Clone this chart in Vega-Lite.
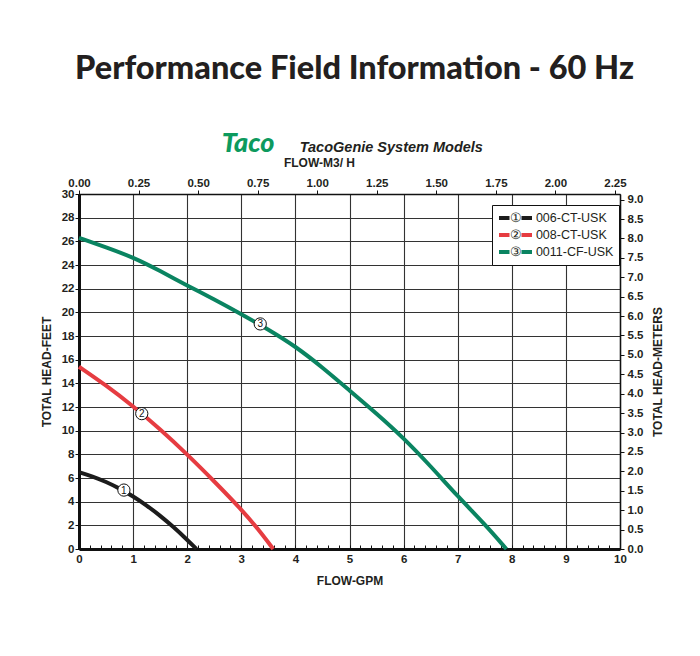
{
  "$schema": "https://vega.github.io/schema/vega-lite/v6.json",
  "autosize": {"type": "none"},
  "width": 541,
  "height": 355,
  "padding": {"left": 79, "top": 194, "right": 80, "bottom": 107},
  "background": "white",
  "title": {
    "text": "Performance Field Information - 60 Hz",
    "font": "Lato",
    "fontWeight": 900,
    "fontSize": 32.5,
    "color": "#231f20",
    "anchor": "middle",
    "dx": 5,
    "offset": 44
  },
  "datasets": {
    "curves": [
      {"series": "006-CT-USK", "gpm": 0, "head": 6.5},
      {"series": "006-CT-USK", "gpm": 0.25, "head": 6.14},
      {"series": "006-CT-USK", "gpm": 0.5, "head": 5.68},
      {"series": "006-CT-USK", "gpm": 0.75, "head": 5.12},
      {"series": "006-CT-USK", "gpm": 1.0, "head": 4.45},
      {"series": "006-CT-USK", "gpm": 1.25, "head": 3.69},
      {"series": "006-CT-USK", "gpm": 1.5, "head": 2.82},
      {"series": "006-CT-USK", "gpm": 1.75, "head": 1.85},
      {"series": "006-CT-USK", "gpm": 2.0, "head": 0.78},
      {"series": "006-CT-USK", "gpm": 2.17, "head": 0},
      {"series": "008-CT-USK", "gpm": 0, "head": 15.4},
      {"series": "008-CT-USK", "gpm": 0.5, "head": 13.83},
      {"series": "008-CT-USK", "gpm": 1.0, "head": 12.07},
      {"series": "008-CT-USK", "gpm": 1.5, "head": 10.13},
      {"series": "008-CT-USK", "gpm": 2.0, "head": 8.0},
      {"series": "008-CT-USK", "gpm": 2.5, "head": 5.72},
      {"series": "008-CT-USK", "gpm": 3.0, "head": 3.35},
      {"series": "008-CT-USK", "gpm": 3.3, "head": 1.75},
      {"series": "008-CT-USK", "gpm": 3.59, "head": 0},
      {"series": "0011-CF-USK", "gpm": 0, "head": 26.3},
      {"series": "0011-CF-USK", "gpm": 0.5, "head": 25.5},
      {"series": "0011-CF-USK", "gpm": 1.0, "head": 24.65},
      {"series": "0011-CF-USK", "gpm": 1.5, "head": 23.5},
      {"series": "0011-CF-USK", "gpm": 2.0, "head": 22.26},
      {"series": "0011-CF-USK", "gpm": 2.5, "head": 21.1},
      {"series": "0011-CF-USK", "gpm": 3.0, "head": 19.85},
      {"series": "0011-CF-USK", "gpm": 3.5, "head": 18.55},
      {"series": "0011-CF-USK", "gpm": 4.0, "head": 17.13},
      {"series": "0011-CF-USK", "gpm": 4.5, "head": 15.35},
      {"series": "0011-CF-USK", "gpm": 5.0, "head": 13.4},
      {"series": "0011-CF-USK", "gpm": 5.5, "head": 11.45},
      {"series": "0011-CF-USK", "gpm": 6.0, "head": 9.38},
      {"series": "0011-CF-USK", "gpm": 6.5, "head": 7.0},
      {"series": "0011-CF-USK", "gpm": 7.0, "head": 4.45},
      {"series": "0011-CF-USK", "gpm": 7.5, "head": 2.1},
      {"series": "0011-CF-USK", "gpm": 7.9, "head": 0}
    ],
    "markers": [
      {"num": "1", "gpm": 0.83, "head": 4.98},
      {"num": "2", "gpm": 1.16, "head": 11.44},
      {"num": "3", "gpm": 3.35, "head": 19.02}
    ],
    "logo": [{"label": "Taco"}],
    "heading": [{"label": "TacoGenie System Models"}]
  },
  "config": {
    "axis": {
      "labelFont": "Liberation Sans",
      "labelFontWeight": "bold",
      "labelFontSize": 11.5,
      "labelColor": "#231f20",
      "titleFont": "Liberation Sans",
      "titleFontWeight": "bold",
      "titleFontSize": 12,
      "titleColor": "#231f20",
      "domainColor": "#111111",
      "tickColor": "#111111",
      "gridColor": "#333333",
      "gridWidth": 1.1,
      "gridOpacity": 1
    },
    "view": {"stroke": null}
  },
  "resolve": {
    "axis": {"x": "independent", "y": "independent"}
  },
  "layer": [
    {
      "data": {"name": "curves"},
      "mark": {"type": "line", "strokeWidth": 4, "interpolate": "basis", "strokeCap": "butt"},
      "encoding": {
        "x": {
          "field": "gpm", "type": "quantitative",
          "scale": {"domain": [0, 10], "nice": false},
          "axis": {
            "title": "FLOW-GPM",
            "orient": "bottom",
            "tickCount": 50,
            "labelExpr": "abs(datum.value - round(datum.value)) < 0.001 ? format(datum.value, 'd') : ''",
            "grid": true,
            "gridOpacity": {"condition": {"test": "abs(datum.value - round(datum.value)) < 0.001", "value": 1}, "value": 0},
            "tickSize": -4,
            "tickWidth": 1,
            "domainWidth": 3,
            "labelPadding": 8,
            "titlePadding": 11,
            "labelFlush": false,
            "labelOverlap": false
          }
        },
        "y": {
          "field": "head", "type": "quantitative",
          "scale": {"domain": [0, 30], "nice": false},
          "axis": {
            "title": "TOTAL HEAD-FEET",
            "orient": "left",
            "values": [0, 2, 4, 6, 8, 10, 12, 14, 16, 18, 20, 22, 24, 26, 28, 30],
            "format": "d",
            "grid": true,
            "tickSize": 4,
            "tickWidth": 1,
            "domainWidth": 3,
            "labelPadding": 1,
            "titlePadding": 8,
            "labelFlush": false,
            "labelOverlap": false
          }
        },
        "color": {
          "field": "series", "type": "nominal",
          "scale": {"domain": ["006-CT-USK", "008-CT-USK", "0011-CF-USK"], "range": ["#1c1c1c", "#e63c41", "#0a8461"]},
          "legend": {
            "title": null,
            "orient": "none",
            "legendX": 413,
            "legendY": 11,
            "direction": "vertical",
            "strokeColor": "#111111",
            "fillColor": "white",
            "padding": 5,
            "cornerRadius": 0,
            "symbolType": "M-2.75,0H-1M1,0H2.75",
            "symbolSize": 144,
            "symbolOffset": 10.5,
            "symbolStrokeWidth": 4,
            "rowPadding": 1,
            "labelFont": "Liberation Sans",
            "labelFontSize": 12.5,
            "labelColor": "#231f20",
            "labelOffset": -13.5,
            "labelExpr": "datum.label === '006-CT-USK' ? '\u2460\u00a0\u00a0\u00a0\u00a0006-CT-USK' : datum.label === '008-CT-USK' ? '\u2461\u00a0\u00a0\u00a0\u00a0008-CT-USK' : '\u2462\u00a0\u00a0\u00a0\u00a00011-CF-USK'"
          }
        },
        "order": {"field": "gpm", "type": "quantitative"}
      }
    },
    {
      "data": {"name": "markers"},
      "mark": {"type": "point", "shape": "circle", "filled": true, "fill": "white", "stroke": "#111111", "strokeWidth": 1, "size": 150, "opacity": 1},
      "encoding": {
        "x": {"field": "gpm", "type": "quantitative", "scale": {"domain": [0, 10], "nice": false}, "axis": null},
        "y": {"field": "head", "type": "quantitative", "scale": {"domain": [0, 30], "nice": false}, "axis": null}
      }
    },
    {
      "data": {"name": "markers"},
      "mark": {"type": "text", "font": "Liberation Sans", "fontSize": 10, "align": "center", "baseline": "middle", "color": "#111111", "dy": 0.5},
      "encoding": {
        "x": {"field": "gpm", "type": "quantitative", "scale": {"domain": [0, 10], "nice": false}, "axis": null},
        "y": {"field": "head", "type": "quantitative", "scale": {"domain": [0, 30], "nice": false}, "axis": null},
        "text": {"field": "num"}
      }
    },
    {
      "data": {"name": "logo"},
      "mark": {"type": "text", "font": "Lato", "fontWeight": 900, "fontStyle": "italic", "fontSize": 27, "align": "left", "baseline": "alphabetic", "color": "#0d9a5e"},
      "encoding": {
        "x": {"datum": 2.64, "type": "quantitative", "scale": {"domain": [0, 10], "nice": false}, "axis": null},
        "y": {"datum": 33.58, "type": "quantitative", "scale": {"domain": [0, 30], "nice": false}, "axis": null},
        "text": {"field": "label"}
      }
    },
    {
      "data": {"name": "heading"},
      "mark": {"type": "text", "font": "Liberation Sans", "fontWeight": "bold", "fontStyle": "italic", "fontSize": 14.5, "align": "left", "baseline": "alphabetic", "color": "#231f20"},
      "encoding": {
        "x": {"datum": 4.08, "type": "quantitative", "scale": {"domain": [0, 10], "nice": false}, "axis": null},
        "y": {"datum": 33.58, "type": "quantitative", "scale": {"domain": [0, 30], "nice": false}, "axis": null},
        "text": {"field": "label"}
      }
    },
    {
      "data": {"name": "markers"},
      "mark": {"type": "point", "opacity": 0},
      "encoding": {
        "x": {
          "field": "gpm", "type": "quantitative",
          "scale": {"domain": [0, 10], "nice": false},
          "axis": {
            "title": "FLOW-M3/ H",
            "orient": "top",
            "values": [0, 1.10072, 2.20144, 3.30215, 4.40287, 5.50359, 6.60431, 7.70503, 8.80574, 9.90646],
            "labelExpr": "format(datum.value / 4.40287, '.2f')",
            "grid": false,
            "tickSize": 4,
            "domainWidth": 1.5,
            "labelPadding": 2,
            "titlePadding": 8,
            "titleX": 240,
            "labelFlush": false,
            "labelOverlap": false
          }
        },
        "y": {
          "field": "head", "type": "quantitative",
          "scale": {"domain": [0, 30], "nice": false},
          "axis": {
            "title": "TOTAL HEAD-METERS",
            "orient": "right",
            "values": [0, 1.64042, 3.28084, 4.92126, 6.56168, 8.2021, 9.84252, 11.48294, 13.12336, 14.76378, 16.4042, 18.04462, 19.68504, 21.32546, 22.96588, 24.6063, 26.24672, 27.88714, 29.52756],
            "labelExpr": "format(datum.value * 0.3048, '.1f')",
            "grid": false,
            "tickSize": 4,
            "domainWidth": 1.5,
            "labelPadding": 3,
            "titlePadding": 22,
            "titleAngle": 270,
            "labelFlush": false,
            "labelOverlap": false
          }
        }
      }
    }
  ]
}
